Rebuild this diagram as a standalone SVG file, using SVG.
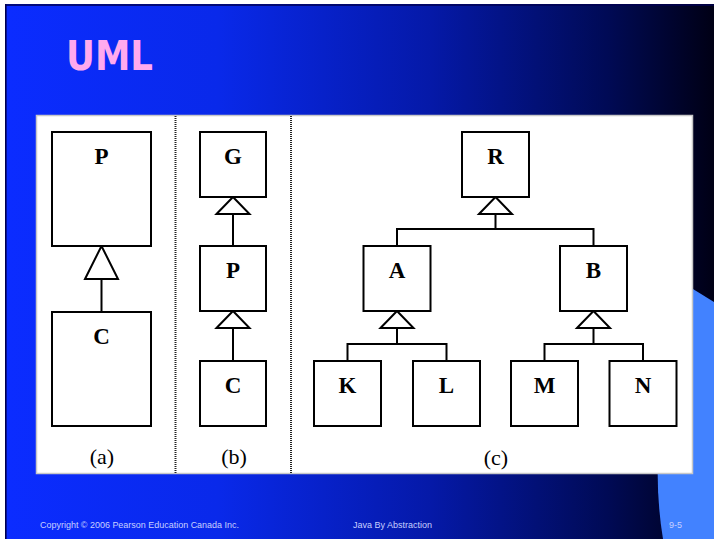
<svg xmlns="http://www.w3.org/2000/svg" width="714" height="539" viewBox="0 0 714 539">
  <defs>
    <linearGradient id="bg" x1="0" y1="0" x2="1" y2="0">
      <stop offset="0" stop-color="#0b2cff"/>
      <stop offset="0.3" stop-color="#0929ea"/>
      <stop offset="0.6" stop-color="#0519a8"/>
      <stop offset="0.85" stop-color="#000a55"/>
      <stop offset="1" stop-color="#000015"/>
    </linearGradient>
    <!-- hollow generalization arrowheads -->
    <marker id="gen" markerUnits="userSpaceOnUse" viewBox="-2 -19 21 38" markerWidth="21" markerHeight="38" refX="17" refY="0" orient="auto" overflow="visible">
      <path d="M0,-16.5 L17,0 L0,16.5 Z" fill="#fff" stroke="#000" stroke-width="2" stroke-linejoin="miter"/>
    </marker>
    <marker id="genTall" markerUnits="userSpaceOnUse" viewBox="-2 -19 37 38" markerWidth="37" markerHeight="38" refX="33" refY="0" orient="auto" overflow="visible">
      <path d="M0,-16.5 L33,0 L0,16.5 Z" fill="#fff" stroke="#000" stroke-width="2" stroke-linejoin="miter"/>
    </marker>
  </defs>
  <style>
    .box { fill: #fff; stroke: #000; stroke-width: 2; }
    .lbl { font-family: "Liberation Serif", "Times New Roman", serif; font-weight: bold; font-size: 23px; text-anchor: middle; fill: #000; }
    .cap { font-family: "Liberation Serif", "Times New Roman", serif; font-size: 22px; text-anchor: middle; fill: #000; }
    .wire { fill: none; stroke: #000; stroke-width: 2; }
    .foot { font-family: "Liberation Sans", Arial, sans-serif; font-size: 9px; fill: #c8d0ff; }
  </style>

  <!-- slide background -->
  <rect x="0" y="0" width="714" height="539" fill="#fff"/>
  <rect x="5" y="4" width="709" height="535" fill="url(#bg)"/>
  <path d="M680,281 L714,302 L714,539 L663,539 Q655,490 659,440 Z" fill="#4282ff"/>
  <line x1="5.8" y1="4" x2="5.8" y2="539" stroke="#000050" stroke-width="1.6"/>
  <line x1="5" y1="5" x2="714" y2="5" stroke="#000050" stroke-width="1.4"/>

  <text x="66" y="70" font-family="'DejaVu Sans', sans-serif" font-weight="bold" font-size="40" fill="#ffaaee" textLength="87" lengthAdjust="spacingAndGlyphs">UML</text>

  <!-- white figure panel -->
  <rect x="36.5" y="115.5" width="656" height="358" fill="#fff" stroke="#c8c8c8" stroke-width="1.5"/>
  <line x1="175.5" y1="116" x2="175.5" y2="473" stroke="#222" stroke-width="2" stroke-dasharray="1 1"/>
  <line x1="291" y1="116" x2="291" y2="473" stroke="#222" stroke-width="2" stroke-dasharray="1 1"/>

  <!-- connectors -->
  <g id="connectors">
    <path class="wire" d="M101.5,312 V246" marker-end="url(#genTall)"/>
    <path class="wire" d="M233,246 V197" marker-end="url(#gen)"/>
    <path class="wire" d="M233,361 V311" marker-end="url(#gen)"/>
    <path class="wire" d="M397,246 V229 H495.5 V197" marker-end="url(#gen)"/>
    <path class="wire" d="M593.5,246 V229 H495.5"/>
    <path class="wire" d="M347.5,361 V344 H397 V311" marker-end="url(#gen)"/>
    <path class="wire" d="M446.5,361 V344 H397"/>
    <path class="wire" d="M544.5,361 V344 H593.5 V311" marker-end="url(#gen)"/>
    <path class="wire" d="M643,361 V344 H593.5"/>
  </g>

  <!-- (a) -->
  <g id="a-P"><rect class="box" x="52" y="132" width="99" height="114"/><text class="lbl" x="101.5" y="164">P</text></g>
  <g id="a-C"><rect class="box" x="52" y="312" width="99" height="114"/><text class="lbl" x="101.5" y="344">C</text></g>

  <!-- (b) -->
  <g id="b-G"><rect class="box" x="200" y="132" width="66" height="65"/><text class="lbl" x="233" y="164">G</text></g>
  <g id="b-P"><rect class="box" x="200" y="246" width="66" height="65"/><text class="lbl" x="233" y="278">P</text></g>
  <g id="b-C"><rect class="box" x="200" y="361" width="66" height="65"/><text class="lbl" x="233" y="393">C</text></g>

  <!-- (c) -->
  <g id="c-R"><rect class="box" x="462" y="132" width="67" height="65"/><text class="lbl" x="495.5" y="164">R</text></g>
  <g id="c-A"><rect class="box" x="363.5" y="246" width="67" height="65"/><text class="lbl" x="397" y="278">A</text></g>
  <g id="c-B"><rect class="box" x="560" y="246" width="67" height="65"/><text class="lbl" x="593.5" y="278">B</text></g>
  <g id="c-K"><rect class="box" x="314" y="361" width="67" height="65"/><text class="lbl" x="347.5" y="393">K</text></g>
  <g id="c-L"><rect class="box" x="413" y="361" width="67" height="65"/><text class="lbl" x="446.5" y="393">L</text></g>
  <g id="c-M"><rect class="box" x="511" y="361" width="67" height="65"/><text class="lbl" x="544.5" y="393">M</text></g>
  <g id="c-N"><rect class="box" x="609.5" y="361" width="67" height="65"/><text class="lbl" x="643" y="393">N</text></g>

  <text class="cap" x="102" y="464">(a)</text>
  <text class="cap" x="234" y="464">(b)</text>
  <text class="cap" x="496" y="465">(c)</text>

  <!-- footer -->
  <text class="foot" x="40" y="528" textLength="199" lengthAdjust="spacingAndGlyphs">Copyright © 2006 Pearson Education Canada Inc.</text>
  <text class="foot" x="353" y="528" textLength="79" lengthAdjust="spacingAndGlyphs">Java By Abstraction</text>
  <text class="foot" x="669" y="528" textLength="13" lengthAdjust="spacingAndGlyphs">9-5</text>
</svg>
